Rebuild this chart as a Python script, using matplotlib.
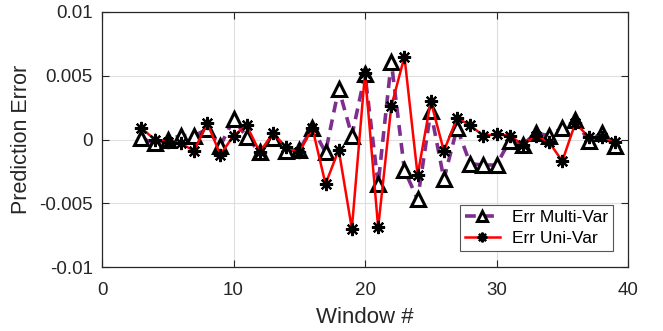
import matplotlib.pyplot as plt

plt.rcParams['font.family'] = ['Liberation Sans', 'DejaVu Sans']

# window index and prediction errors for both models
windows = list(range(3, 40))
err_multi = [0.0001, -0.0003, 0.0000, 0.0003, 0.0003, 0.0008, -0.0005, 0.0016,
             0.0002, -0.0010, 0.0001, -0.0009, -0.0008, 0.0009, -0.0010, 0.0040,
             0.0003, 0.0051, -0.0035, 0.0061, -0.0024, -0.0047, 0.0022, -0.0031,
             0.0009, -0.0019, -0.0020, -0.0020, -0.0001, -0.0004, 0.0005, 0.0003,
             0.0009, 0.0015, -0.0001, 0.0005, -0.0005]
err_uni = [0.0009, 0.0000, -0.0002, -0.0003, -0.0009, 0.0013, -0.0012, 0.0003,
           0.0011, -0.0010, 0.0005, -0.0006, -0.0010, 0.0009, -0.0035, -0.0008,
           -0.0070, 0.0052, -0.0069, 0.0026, 0.0065, -0.0028, 0.0030, -0.0009,
           0.0017, 0.0011, 0.0003, 0.0004, 0.0003, -0.0004, 0.0003, -0.0002,
           -0.0017, 0.0013, 0.0002, 0.0002, -0.0002]

fig = plt.figure(figsize=(6.63, 3.31), dpi=100)
ax = fig.add_axes([102 / 663, 1 - 267 / 331, 526 / 663, 255 / 331])

ax.plot(windows, err_multi, color='#7E2F8E', linestyle='--', linewidth=2.6,
        dashes=(3, 2), marker='^', markersize=10, markerfacecolor='white',
        markeredgecolor='black', markeredgewidth=2.2, label='Err Multi-Var')
ax.plot(windows, err_uni, color='red', linewidth=1.8,
        marker=(8, 2, 0), markersize=9.5, markeredgecolor='black',
        markeredgewidth=1.6, label='Err Uni-Var')

ax.set_xlim(0, 40)
ax.set_ylim(-0.01, 0.01)
ax.set_xticks([0, 10, 20, 30, 40])
ax.set_yticks([-0.01, -0.005, 0, 0.005, 0.01])
ax.set_yticklabels(['-0.01', '-0.005', '0', '0.005', '0.01'])
ax.grid(True, color='#dfdfdf', linewidth=0.8)
ax.set_axisbelow(True)
ax.tick_params(direction='in', top=True, right=True, labelsize=13.5,
               colors='#262626', length=5, width=0.8, pad=6.5)
ax.tick_params(axis='x', pad=10.5)
for sp in ax.spines.values():
    sp.set_color('#262626')
    sp.set_linewidth(0.9)

ax.set_xlabel('Window #', fontsize=16, color='#262626', labelpad=6)
ax.set_ylabel('Prediction Error', fontsize=15.5, color='#262626', labelpad=5)

leg = ax.legend(loc='lower right', bbox_to_anchor=(0.9715, 0.0627),
                fontsize=12.5, fancybox=False, edgecolor='#555555',
                framealpha=1, borderaxespad=0, handlelength=2.0,
                handletextpad=0.7, borderpad=0.3, labelspacing=0.3)
leg.get_frame().set_linewidth(0.8)
for h in leg.legend_handles:
    h.set_markersize(7)

fig.savefig('out.png', dpi=100)
